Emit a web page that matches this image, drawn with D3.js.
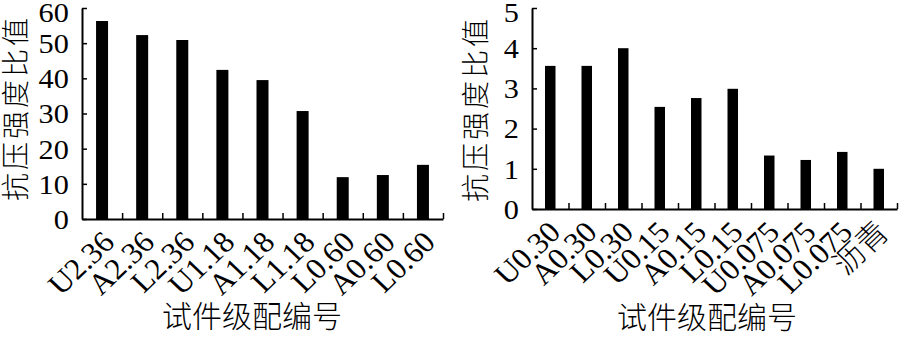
<!DOCTYPE html>
<html>
<head>
<meta charset="utf-8">
<script src="https://cdn.jsdelivr.net/npm/d3@7"></script>
<style>
  body { margin: 0; background: #fff; }
  svg { display: block; }
  .tickText { font-family: "Liberation Serif", "Noto Sans CJK SC", serif; font-size: 27.5px; fill: #000; }
  .cat { font-size: 30px; font-weight: 300; }
  .title { font-family: "Noto Sans CJK SC", sans-serif; font-size: 30px; font-weight: 300; fill: #000; }
  .ytitle { font-size: 28px; letter-spacing: 3px; }
</style>
</head>
<body>
<div id="chart"></div>
<script>
// data
var leftCats = ["U2.36", "A2.36", "L2.36", "U1.18", "A1.18", "L1.18", "L0.60", "A0.60", "L0.60"];
var leftVals = [56.3, 52.3, 50.9, 42.4, 39.5, 30.7, 11.9, 12.5, 15.4];
var leftTicks = [0, 10, 20, 30, 40, 50, 60];

var rightCats = ["U0.30", "A0.30", "L0.30", "U0.15", "A0.15", "L0.15", "U0.075", "A0.075", "L0.075", "沥青"];
var rightVals = [3.56, 3.56, 4.0, 2.54, 2.76, 2.99, 1.33, 1.22, 1.42, 1.0];
var rightTicks = [0, 1, 2, 3, 4, 5];

var yTitle = "抗压强度比值";
var xTitle = "试件级配编号";

// the original's type is a little wide
var stretch = 1.1;

var svg = d3.select("#chart")
  .append("svg")
  .attr("width", 902)
  .attr("height", 341);

// draw one panel
function drawPanel(cfg) {
  var n = cfg.cats.length;
  var top = cfg.ticks[cfg.ticks.length - 1];
  var g = svg.append("g");

  var x = d3.scaleBand()
    .domain(d3.range(n))
    .range([cfg.x0, cfg.x1])
    .paddingInner(0)
    .paddingOuter(0);

  // boundaries between categories, for the tick marks
  var xEdge = d3.scaleLinear()
    .domain([0, n])
    .range([cfg.x0, cfg.x1]);

  var y = d3.scaleLinear()
    .domain([0, top])
    .range([cfg.y0, cfg.y1]);

  // bars
  g.selectAll("rect.bar")
    .data(cfg.vals)
    .enter()
    .append("rect")
    .attr("class", "bar")
    .attr("x", (d, i) => x(i) + x.bandwidth() / 2 - cfg.barW / 2)
    .attr("y", d => y(d))
    .attr("width", cfg.barW)
    .attr("height", d => y(0) - y(d))
    .attr("fill", "#000");

  // y axis, ticks inward
  var yAxis = g.append("g")
    .attr("transform", `translate(${cfg.x0},0)`)
    .call(d3.axisLeft(y)
      .tickValues(cfg.ticks)
      .tickFormat(d3.format("d"))
      .tickSize(-5)
      .tickSizeOuter(0)
      .tickPadding(12));
  yAxis.select(".domain").attr("stroke-width", 2);
  yAxis.selectAll(".tick line").attr("stroke-width", 1.5);
  yAxis.selectAll(".tick text")
    .attr("class", "tickText")
    .attr("font-family", null)
    .attr("font-size", null)
    .attr("dy", "0.34em")
    .attr("transform", `scale(${stretch},1)`);
  // top label sits a little lower, as in the original
  yAxis.selectAll(".tick text")
    .filter(d => d === top)
    .attr("y", 4);

  // x axis, ticks inward at category edges
  var xAxis = g.append("g")
    .attr("transform", `translate(0,${cfg.y0})`)
    .call(d3.axisBottom(xEdge).tickValues(d3.range(1, n + 1)).tickSize(-6).tickSizeOuter(0).tickFormat(""));
  xAxis.select(".domain").attr("stroke-width", 2);
  xAxis.selectAll(".tick line").attr("stroke-width", 1.5);

  // rotated category labels
  g.selectAll("text.cat")
    .data(cfg.cats)
    .enter()
    .append("text")
    .attr("class", "tickText cat")
    .attr("text-anchor", "end")
    .attr("transform", (d, i) => `translate(${x(i) + x.bandwidth() / 2 + cfg.labDx},${cfg.y0 + cfg.labDy}) scale(1.05,1) rotate(-45)`)
    .text(d => d);

  // axis titles
  g.append("text")
    .attr("class", "title ytitle")
    .attr("text-anchor", "middle")
    .attr("transform", `translate(${cfg.yTitleX},${cfg.yTitleY}) rotate(-90)`)
    .attr("dy", "0.35em")
    .text(yTitle);

  g.append("text")
    .attr("class", "title")
    .attr("text-anchor", "middle")
    .attr("x", cfg.xTitleX)
    .attr("y", cfg.xTitleY)
    .attr("dy", "0.35em")
    .text(xTitle);
}

drawPanel({
  cats: leftCats, vals: leftVals, ticks: leftTicks,
  x0: 82, x1: 443, y0: 219, y1: 8, barW: 12,
  labDx: 14, labDy: 25,
  yTitleX: 16, yTitleY: 108, xTitleX: 252, xTitleY: 316
});

drawPanel({
  cats: rightCats, vals: rightVals, ticks: rightTicks,
  x0: 532, x1: 897, y0: 209, y1: 8, barW: 10.5,
  labDx: 12, labDy: 25,
  yTitleX: 476, yTitleY: 109, xTitleX: 707, xTitleY: 317
});
</script>
</body>
</html>
